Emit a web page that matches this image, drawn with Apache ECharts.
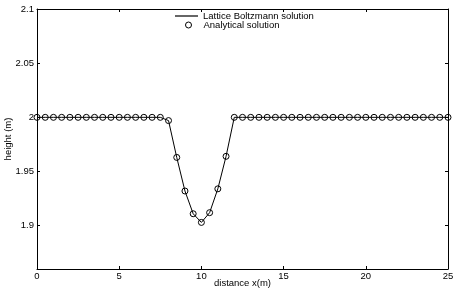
<!DOCTYPE html>
<html><head><meta charset="utf-8">
<script src="https://cdn.jsdelivr.net/npm/echarts@6/dist/echarts.min.js"></script>
<style>html,body{margin:0;padding:0;background:#fff}#c{width:457px;height:291px}</style>
</head><body><div id="c"></div>
<script>
const xs = [0,0.5,1,1.5,2,2.5,3,3.5,4,4.5,5,5.5,6,6.5,7,7.5,8,8.5,9,9.5,10,10.5,11,11.5,12,12.5,13,13.5,14,14.5,15,15.5,16,16.5,17,17.5,18,18.5,19,19.5,20,20.5,21,21.5,22,22.5,23,23.5,24,24.5,25];
const lbValues = [2,2,2,2,2,2,2,2,2,2,2,2,2,2,2,2,1.997,1.963,1.932,1.911,1.903,1.912,1.934,1.964,2,2,2,2,2,2,2,2,2,2,2,2,2,2,2,2,2,2,2,2,2,2,2,2,2,2,2];
const anValues = [2,2,2,2,2,2,2,2,2,2,2,2,2,2,2,2,1.997,1.963,1.932,1.911,1.903,1.912,1.934,1.964,2,2,2,2,2,2,2,2,2,2,2,2,2,2,2,2,2,2,2,2,2,2,2,2,2,2,2];
const xTicks = [0,5,10,15,20,25];
const yTicks = [1.9,1.95,2,2.05,2.1];

const chart = echarts.init(document.getElementById('c'));
const font = 'Liberation Sans, Arial, sans-serif';
const fs = 9.5;
const tick = (vals)=>({show:true,customValues:vals,inside:true,length:3,lineStyle:{color:'#000'}});
const line = {show:true,onZero:false,lineStyle:{color:'#000',width:1}};
chart.setOption({
  animation:false,
  grid:{left:37,right:9,top:9,bottom:22,outerBoundsMode:'none',containLabel:false},
  legend:[
    {data:[{name:'Lattice Boltzmann solution',icon:'rect',itemStyle:{color:'#000'}}],left:175,top:11,itemWidth:23,itemHeight:1.2,itemGap:0,padding:0,
     textStyle:{fontFamily:font,fontSize:fs,color:'#000'}},
    {data:[{name:'Analytical solution',icon:'circle',itemStyle:{color:'#fff',borderColor:'#000',borderWidth:1}}],left:185,top:20,itemWidth:6,itemHeight:6,padding:0,
     textStyle:{fontFamily:font,fontSize:fs,color:'#000',padding:[0,0,0,7]}}
  ],
  xAxis:[
    {type:'value',min:0,max:25,name:'distance x(m)',nameLocation:'middle',nameGap:9,nameMoveOverlap:false,
      nameTextStyle:{fontFamily:font,fontSize:fs,color:'#000'},
      axisLine:line,splitLine:{show:false},
      axisLabel:{customValues:xTicks,fontFamily:font,fontSize:fs,color:'#000',margin:2},
      axisTick:tick(xTicks)},
    {type:'value',min:0,max:25,position:'top',axisLine:line,
      axisLabel:{show:false},axisTick:tick(xTicks),splitLine:{show:false}}
  ],
  yAxis:[
    {type:'value',min:1.86,max:2.1,name:'height (m)',nameLocation:'middle',nameGap:24,nameMoveOverlap:false,
      nameTextStyle:{fontFamily:font,fontSize:fs,color:'#000'},
      axisLine:line,splitLine:{show:false},
      axisLabel:{customValues:yTicks,fontFamily:font,fontSize:fs,color:'#000',margin:3},
      axisTick:tick(yTicks)},
    {type:'value',min:1.86,max:2.1,position:'right',
      axisLine:line,splitLine:{show:false},
      axisLabel:{show:false},axisTick:tick(yTicks)}
  ],
  series:[
    {name:'Lattice Boltzmann solution',type:'line',data:xs.map((x,i)=>[x,lbValues[i]]),
      symbol:'none',lineStyle:{color:'#000',width:1},itemStyle:{color:'#000'},z:2},
    {name:'Analytical solution',type:'scatter',data:xs.map((x,i)=>[x,anValues[i]]),
      symbol:'circle',symbolSize:6,itemStyle:{color:'rgba(255,255,255,0)',borderColor:'#000',borderWidth:1,opacity:1},z:3}
  ]
});
</script></body></html>
